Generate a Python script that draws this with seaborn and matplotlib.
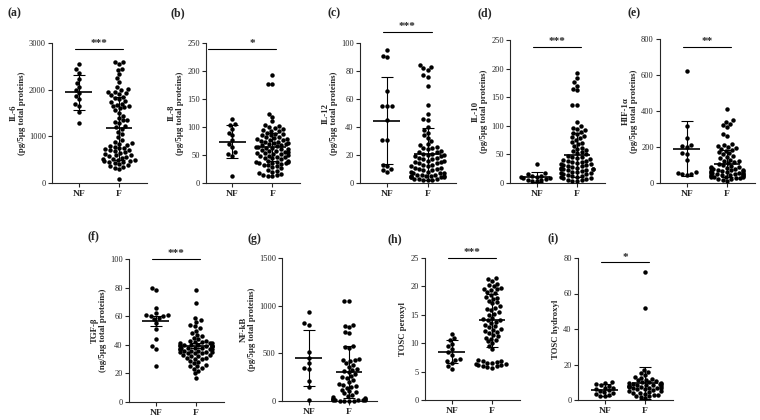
import warnings
import matplotlib
matplotlib.use("Agg")
import matplotlib.pyplot as plt
import numpy as np
import pandas as pd
import seaborn as sns

warnings.filterwarnings("ignore")

groups = ["NF", "F"]

# values (approximate)
il6_nf = [2560, 2440, 2360, 2230, 2140, 2060, 1990, 1920, 1860, 1790, 1700, 1640, 1530, 1290]
il6_f = [2600, 2600, 2560, 2450, 2420, 2330, 2240, 2160, 2060, 2010, 1990, 1960, 1940, 1920,
         1900, 1880, 1850, 1830, 1800, 1760, 1730, 1700, 1680, 1660, 1640, 1620, 1600, 1560,
         1500, 1440, 1390, 1360, 1340, 1310, 1280, 1230, 1190, 1150, 1100, 1040, 980, 920, 880,
         860, 840, 820, 800, 780, 760, 740, 720, 710, 700, 680, 660, 640, 620, 600, 590, 570,
         560, 540, 520, 510, 500, 490, 480, 470, 460, 450, 430, 410, 390, 370, 350, 330, 310, 80]
il8_nf = [115, 105, 103, 96, 90, 85, 76, 70, 64, 55, 51, 48, 12]
il8_f = [192, 177, 176, 124, 118, 110, 103, 101, 100, 98, 96, 95, 93, 92, 90, 88, 87, 86, 85,
         83, 82, 80, 79, 78, 77, 76, 75, 74, 73, 72, 71, 70, 69, 68, 67, 66, 65, 64, 63, 62, 61,
         60, 59, 58, 57, 56, 55, 54, 53, 52, 51, 50, 49, 48, 47, 46, 45, 44, 42, 40, 39, 38, 37,
         37, 36, 35, 35, 34, 33, 32, 30, 28, 26, 24, 22, 20, 18, 16, 15, 14, 13, 12]
il12_nf = [95, 91, 90, 66, 55, 55, 55, 45, 31, 31, 13, 12, 10, 9, 8]
il12_f = [84, 83, 82, 81, 77, 76, 69, 56, 49, 46, 45, 40, 38, 36, 34, 32, 30, 28, 27, 26, 25,
          25, 24, 23, 22, 22, 21, 21, 20, 20, 19, 19, 18, 18, 17, 17, 16, 16, 15, 15, 14, 14, 13,
          13, 12, 12, 11, 11, 10, 10, 9, 9, 8, 8, 7, 7, 7, 6, 6, 6, 5, 5, 5, 5, 4, 4, 4, 4, 3, 3,
          3, 2, 2, 2]
il10_nf = [33, 18, 15, 13, 12, 11, 10, 9, 8, 7, 6, 5, 4, 3]
il10_f = [193, 183, 176, 170, 165, 162, 137, 136, 107, 100, 97, 95, 92, 90, 88, 85, 82, 80, 78,
          75, 72, 70, 68, 65, 62, 60, 58, 56, 54, 52, 50, 48, 46, 45, 44, 42, 40, 39, 38, 37, 36,
          35, 34, 33, 32, 31, 30, 29, 28, 27, 26, 25, 25, 24, 24, 23, 22, 21, 20, 19, 18, 17, 16,
          15, 14, 13, 12, 11, 10, 9, 8, 7, 6, 5, 4, 3]
hif_nf = [625, 315, 250, 210, 205, 200, 165, 160, 130, 60, 55, 52, 48, 45]
hif_f = [410, 350, 340, 330, 320, 310, 270, 260, 215, 210, 205, 200, 195, 190, 185, 180, 170,
         165, 160, 150, 145, 140, 130, 125, 120, 115, 110, 105, 100, 95, 90, 88, 85, 82, 80, 78,
         75, 72, 70, 68, 66, 64, 62, 60, 58, 56, 55, 54, 52, 50, 48, 46, 45, 44, 42, 40, 38, 36,
         35, 34, 32, 30, 28, 25, 20, 15, 10]
tgf_nf = [80, 78, 66, 62, 61, 61, 60, 60, 59, 58, 55, 51, 44, 39, 37, 25]
tgf_f = [78, 69, 59, 57, 56, 54, 53, 52, 50, 48, 47, 46, 45, 44, 43, 43, 42, 42, 41, 41, 41, 40,
         40, 40, 40, 39, 39, 39, 39, 39, 38, 38, 38, 38, 37, 37, 37, 37, 36, 36, 36, 35, 35, 35,
         34, 34, 34, 33, 33, 32, 32, 31, 31, 30, 30, 29, 28, 27, 26, 25, 25, 24, 23, 22, 20, 17]
nfkb_nf = [930, 820, 800, 510, 450, 400, 350, 340, 210, 150, 10]
nfkb_f = [1050, 1050, 800, 790, 780, 720, 710, 580, 570, 560, 440, 430, 430, 420, 400, 380, 360,
          340, 330, 310, 300, 280, 260, 250, 240, 220, 200, 180, 170, 160, 150, 140, 120, 100, 90,
          80, 60, 50, 40, 30, 25, 20, 20, 15, 15, 10, 10, 10, 5, 5, 5, 5]
per_nf = [11.7, 11, 10.5, 9.8, 9.5, 9, 8.5, 8, 7.2, 7, 6.8, 6.5, 6, 5.5]
per_f = [21.5, 21.3, 21, 20.5, 20.2, 20, 19.8, 19.6, 19.5, 19.3, 19, 18.8, 18.5, 18.2, 18, 17.8,
         17.5, 17.2, 17, 16.5, 16.2, 16, 15.8, 15.5, 15.2, 15, 14.5, 14.2, 14, 14, 13.8, 13.5,
         13.2, 13, 12.8, 12.5, 12.3, 12.2, 12, 11.8, 11.5, 11.2, 11, 10.8, 10.5, 10.3, 10, 9.5, 9,
         7, 6.9, 6.8, 6.7, 6.6, 6.5, 6.4, 6.3, 6.2, 6.1, 6, 5.9, 5.8, 5.7]
hyd_nf = [10, 9.5, 9, 8.5, 8, 7, 6.5, 6, 5.5, 5, 4.5, 4, 3.5, 3, 2.5, 2]
hyd_f = [72, 52, 17, 16, 15, 14, 13, 12.5, 12, 11.5, 11, 10.5, 10, 10, 9.5, 9.5, 9, 9, 9, 8.5,
         8.5, 8.5, 8, 8, 8, 7.5, 7.5, 7, 7, 6.5, 6.5, 6, 6, 5.5, 5, 5, 4.5, 4, 4, 3.5, 3, 3, 2.5,
         2, 1.5, 1]

# mean and error bar (NF, F) as drawn
means = {"a": [1945, 1170], "b": [74, 65], "c": [44.5, 20.5], "d": [10.5, 49.5],
         "e": [190, 108], "f": [56.5, 39.5], "g": [450, 306], "h": [8.5, 14], "i": [5.6, 9.4]}
errs = {"a": [370, 680], "b": [29, 25], "c": [31, 18.5], "d": [8.8, 38.5], "e": [152, 77],
        "f": [3.5, 1.5], "g": [295, 270], "h": [2, 4.7], "i": [3.2, 9]}

stars = {"a": "***", "b": "*", "c": "***", "d": "***", "e": "**", "f": "***", "h": "***", "i": "*"}
sig_y = {"a": 2870, "b": 239, "c": 108, "d": 238, "e": 757, "f": 100, "h": 25, "i": 77.5}

ylabels = {
    "a": "IL-6\n(pg/5μg total proteins)",
    "b": "IL-8\n(pg/5μg total proteins)",
    "c": "IL-12\n(pg/5μg total proteins)",
    "d": "IL-10\n(pg/5μg total proteins)",
    "e": "HIF-1α\n(pg/5μg total proteins)",
    "f": "TGF-β\n(ng/5μg total proteins)",
    "g": "NF-kB\n(pg/5μg total proteins)",
    "h": "TOSC peroxyl",
    "i": "TOSC hydroxyl",
}
yticks = {"a": np.arange(0, 3001, 1000), "b": np.arange(0, 251, 50), "c": np.arange(0, 101, 20),
          "d": np.arange(0, 251, 50), "e": np.arange(0, 801, 200), "f": np.arange(0, 101, 20),
          "g": np.arange(0, 1501, 500), "h": np.arange(0, 26, 5), "i": np.arange(0, 81, 20)}
values = {"a": (il6_nf, il6_f), "b": (il8_nf, il8_f), "c": (il12_nf, il12_f),
          "d": (il10_nf, il10_f), "e": (hif_nf, hif_f), "f": (tgf_nf, tgf_f),
          "g": (nfkb_nf, nfkb_f), "h": (per_nf, per_f), "i": (hyd_nf, hyd_f)}

sns.set_style("ticks")
plt.rcParams["font.family"] = ["Liberation Serif", "DejaVu Serif"]
plt.rcParams["axes.linewidth"] = 0.8

W, H = 760, 420
fig = plt.figure(figsize=(W / 100, H / 100), dpi=100)

# axes boxes in pixels: left, top, right, bottom
boxes = {"a": (52, 43, 147, 183), "b": (206, 43, 300, 183), "c": (360, 43, 456, 183),
         "d": (510, 40, 605, 183), "e": (660, 39, 755, 183), "f": (129, 259, 224, 402),
         "g": (282, 258, 377, 401), "h": (425, 258, 520, 400), "i": (578, 258, 673, 400)}
label_pos = {"a": (14, 13), "b": (178, 13), "c": (334, 13), "d": (485, 13), "e": (634, 13),
             "f": (93, 236), "g": (254, 239), "h": (395, 239), "i": (553, 238)}

for key, (l, t, r, b) in boxes.items():
    ax = fig.add_axes([l / W, 1 - b / H, (r - l) / W, (b - t) / H])
    nf, f = values[key]
    df = pd.DataFrame({"group": ["NF"] * len(nf) + ["F"] * len(f), "value": nf + f})
    sns.swarmplot(data=df, x="group", y="value", order=groups, color="black", size=3.2,
                  ax=ax, warn_thresh=1)
    for coll in ax.collections:
        coll.set_clip_on(False)

    m, e = means[key], errs[key]
    ax.errorbar([0, 1], m, yerr=e, fmt="none", ecolor="black", elinewidth=0.8,
                capsize=4.5, capthick=0.8, zorder=4)
    ax.hlines(m, [-0.33, 0.67], [0.33, 1.33], color="black", lw=1.2, zorder=4)

    if key in stars:
        x0 = -0.6 if key == "b" else -0.1
        ax.plot([x0, 1.1], [sig_y[key]] * 2, color="black", lw=0.8, clip_on=False)
        ax.annotate(stars[key], (0.5, sig_y[key]), xytext=(0, 0.5), textcoords="offset points",
                    ha="center", va="bottom", fontsize=8, fontweight="bold", annotation_clip=False)

    ticks = yticks[key]
    ax.set_ylim(0, ticks[-1])
    ax.set_yticks(ticks)
    ax.set_xlim(-0.66, 1.69)
    ax.set_xlabel("")
    ax.set_ylabel(ylabels[key], fontsize=6.3, fontweight="bold", labelpad=2, linespacing=1.1)
    ax.tick_params(axis="y", labelsize=6, length=3, width=0.8, pad=1.5)
    ax.tick_params(axis="x", labelsize=6.8, length=3, width=0.8, pad=2)
    for lab in ax.get_xticklabels():
        lab.set_fontweight("bold")
    sns.despine(ax=ax)

    px, py = label_pos[key]
    fig.text(px / W, 1 - py / H, f"({key})", ha="center", va="center",
             fontsize=8.5, fontweight="bold")

fig.savefig("out.png", dpi=100)
plt.close(fig)
